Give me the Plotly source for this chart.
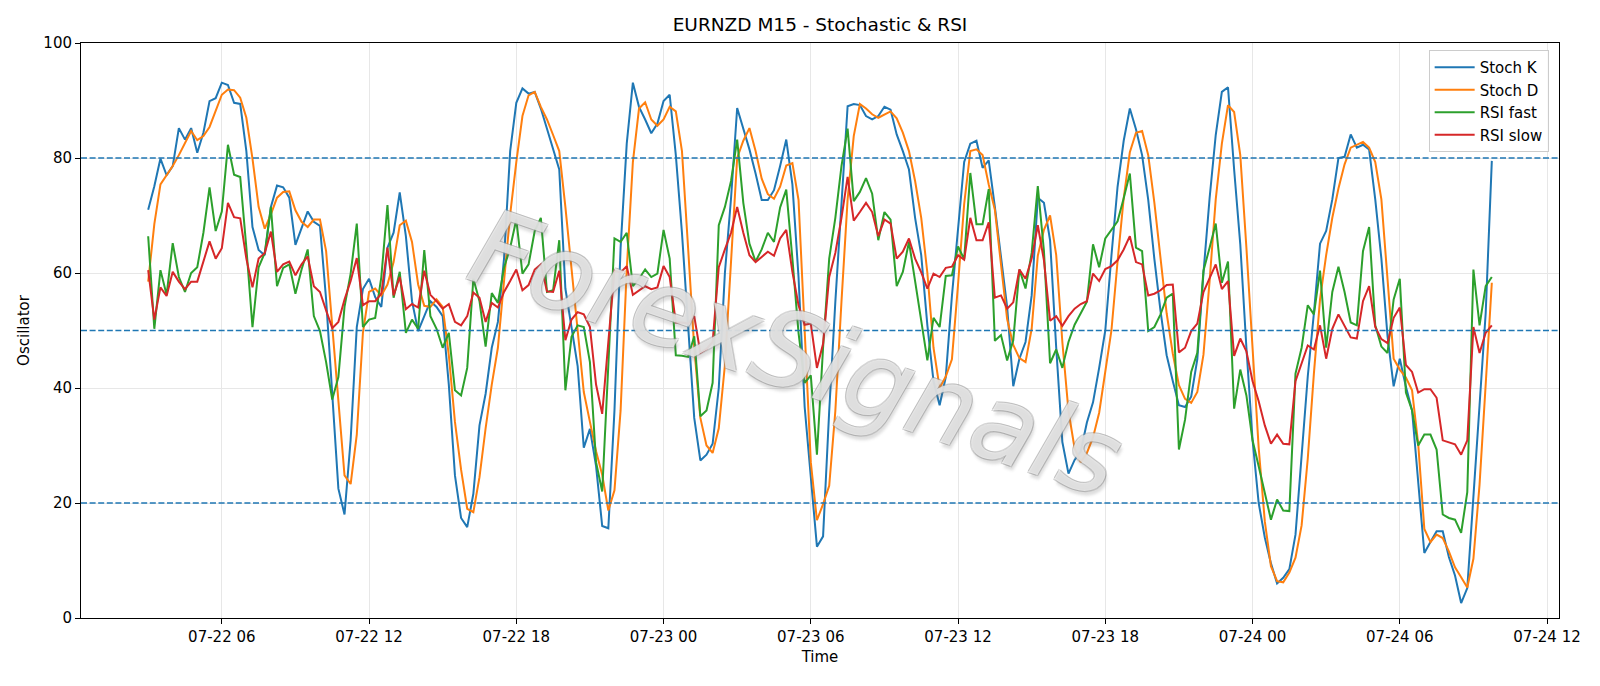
import pandas as pd
import plotly.graph_objects as go

# ---------------- data ----------------
start_time = "2025-07-22 03:00"
bar_minutes = 15

stoch_k = [
    71.0, 75.1, 79.9, 77.0, 78.6, 85.2, 83.2, 85.2, 80.9, 84.4,
    89.9, 90.4, 93.1, 92.7, 89.6, 89.4, 81.2, 68.0, 64.0, 63.1,
    71.5, 75.2, 74.9, 73.1, 64.9, 67.7, 70.7, 68.9, 68.2, 55.4,
    38.3, 22.5, 18.0, 31.0, 50.6, 57.2, 59.0, 55.8, 54.1, 64.4,
    67.0, 74.0, 66.4, 55.1, 49.9, 52.5, 55.1, 54.1, 52.5, 40.6,
    24.8, 17.4, 15.8, 21.6, 33.5, 39.0, 47.0, 51.5, 62.5, 81.2,
    89.6, 92.1, 91.2, 91.5, 88.6, 85.1, 81.5, 78.0, 57.3, 50.3,
    43.8, 29.6, 32.9, 26.4, 16.0, 15.6, 36.1, 64.4, 82.5, 93.1,
    88.9, 86.7, 84.3, 86.0, 89.9, 91.0, 80.5, 67.0, 51.5, 34.8,
    27.4, 28.4, 30.3, 40.0, 60.0, 73.0, 88.7, 85.1, 81.5, 77.3,
    72.7, 72.7, 74.4, 78.6, 83.2, 75.4, 59.3, 36.7, 24.5, 12.4,
    14.2, 36.0, 55.0, 72.0, 89.0, 89.4, 89.2, 87.3, 86.7, 87.3,
    88.9, 88.4, 84.1, 81.2, 78.0, 69.6, 63.1, 50.9, 41.2, 37.0,
    41.9, 56.0, 68.3, 79.3, 82.5, 83.0, 78.3, 79.6, 71.5, 63.1,
    54.1, 40.3, 45.1, 48.0, 56.1, 73.1, 72.2, 65.7, 47.0, 30.6,
    25.1, 27.5, 29.0, 34.0, 37.5, 43.5, 50.0, 63.0, 75.0, 83.0,
    88.6, 85.0, 80.5, 72.7, 62.4, 53.4, 45.7, 41.2, 37.0, 36.7,
    38.5, 45.0, 60.0, 73.0, 84.0, 91.5, 92.3, 78.0, 65.0, 47.0,
    31.0, 20.0, 14.0, 9.5, 6.0, 7.0, 8.5, 14.5, 28.0, 42.0,
    53.0, 65.1, 67.3, 72.8, 80.0, 80.2, 84.1, 81.8, 82.3, 81.5,
    72.8, 62.5, 49.0, 40.3, 45.1, 40.2, 36.1, 23.2, 11.3, 13.2,
    15.1, 15.1, 10.6, 7.4, 2.6, 5.2, 22.0, 37.0, 53.0, 79.5,
]

stoch_d = [
    58.5, 68.5, 75.4, 77.0, 78.6, 80.5, 82.6, 84.7, 83.1, 83.8,
    85.4, 88.3, 91.0, 91.9, 91.8, 90.5, 87.0, 79.9, 71.5, 67.7,
    70.2, 73.1, 74.1, 74.2, 70.9, 68.9, 68.0, 69.3, 69.3, 63.8,
    50.9, 37.4, 24.8, 23.3, 31.9, 49.6, 56.7, 57.3, 56.1, 58.0,
    61.9, 68.3, 69.1, 65.4, 58.0, 54.3, 54.1, 55.4, 54.1, 45.7,
    34.1, 25.8, 19.0, 18.4, 24.5, 33.0, 40.6, 47.0, 58.6, 70.2,
    79.3, 87.3, 90.9, 91.5, 88.9, 86.7, 84.0, 81.2, 71.5, 60.6,
    50.9, 39.3, 34.1, 29.0, 24.9, 18.7, 22.2, 36.1, 60.6, 79.3,
    88.6, 89.7, 86.7, 85.6, 86.7, 88.9, 88.1, 81.2, 64.4, 47.0,
    34.8, 30.0, 28.7, 33.0, 44.0, 62.0, 80.0, 83.0, 85.2, 81.2,
    76.4, 73.7, 72.9, 75.0, 78.7, 79.1, 72.7, 50.0, 27.1, 17.0,
    19.8, 23.0, 36.0, 55.0, 72.8, 83.8, 89.4, 88.6, 87.6, 87.0,
    87.6, 88.1, 86.9, 84.4, 81.2, 76.0, 69.6, 60.0, 47.0, 40.0,
    42.0, 45.0, 58.0, 72.0, 81.2, 81.5, 80.5, 75.4, 71.0, 62.0,
    52.0, 47.5, 45.2, 44.5, 50.3, 63.0, 67.5, 70.0, 63.1, 48.0,
    36.0, 29.5, 27.1, 28.7, 31.4, 35.7, 43.0, 50.0, 62.0, 73.0,
    81.0, 84.4, 84.7, 80.5, 72.2, 62.5, 53.0, 46.0, 40.5, 38.1,
    37.4, 39.3, 45.8, 58.6, 72.8, 82.5, 89.2, 88.0, 80.5, 64.4,
    47.7, 29.6, 16.8, 9.0, 6.4, 6.2, 7.9, 10.5, 16.1, 27.7,
    42.5, 55.4, 63.1, 69.6, 74.7, 78.9, 81.8, 82.3, 82.8, 81.8,
    79.3, 72.8, 59.3, 45.1, 43.2, 41.8, 39.6, 30.3, 15.5, 13.2,
    14.5, 13.9, 11.6, 8.8, 7.1, 5.3, 10.3, 23.2, 40.6, 58.3,
]

rsi_fast = [
    66.4, 50.3, 60.5, 56.2, 65.2, 59.3, 56.7, 60.0, 61.0, 67.0,
    74.9, 67.3, 70.7, 82.3, 77.1, 76.7, 64.4, 50.6, 61.0, 63.5,
    71.5, 57.7, 60.9, 61.5, 56.4, 60.6, 64.1, 52.5, 49.9, 44.5,
    38.0, 41.9, 54.1, 59.9, 68.6, 50.6, 51.9, 52.2, 59.3, 71.8,
    55.7, 60.2, 49.6, 51.9, 50.3, 64.0, 52.5, 50.3, 47.0, 49.6,
    39.6, 38.7, 43.5, 59.0, 55.1, 47.2, 56.5, 54.8, 60.9, 64.4,
    69.3, 59.9, 61.5, 67.3, 69.6, 56.7, 57.0, 65.7, 39.6, 48.9,
    50.9, 50.6, 44.5, 27.1, 22.0, 44.0, 66.0, 65.4, 67.0, 57.7,
    59.0, 60.6, 59.3, 59.9, 67.5, 62.5, 45.7, 45.6, 45.4, 49.0,
    35.1, 36.1, 40.9, 68.3, 71.5, 76.0, 83.2, 72.2, 65.1, 62.0,
    64.1, 67.0, 65.4, 71.4, 74.5, 62.5, 49.6, 40.9, 42.2, 28.4,
    47.0, 62.5, 69.6, 78.6, 85.1, 72.5, 74.1, 76.5, 73.8, 65.7,
    70.6, 69.3, 57.7, 60.2, 65.4, 58.6, 51.5, 44.8, 52.2, 50.6,
    59.5, 59.6, 64.6, 62.4, 77.4, 68.5, 68.5, 74.6, 48.2, 49.2,
    44.8, 48.3, 60.6, 57.3, 63.5, 75.1, 63.8, 44.3, 46.7, 43.5,
    48.0, 51.0, 53.0, 55.0, 65.0, 61.0, 66.0, 67.5, 69.0, 73.0,
    77.3, 64.4, 63.8, 49.9, 50.6, 52.8, 55.7, 56.4, 29.3, 34.5,
    42.8, 46.1, 60.4, 64.4, 68.6, 58.3, 62.0, 36.4, 43.2, 38.7,
    30.9, 26.4, 21.9, 17.1, 20.6, 18.7, 18.6, 42.5, 47.0, 54.4,
    52.8, 60.4, 47.0, 56.7, 61.1, 56.7, 51.4, 50.9, 63.8, 68.0,
    50.9, 47.2, 46.1, 55.4, 59.0, 39.2, 36.1, 30.0, 31.9, 31.9,
    29.3, 18.0, 17.4, 17.1, 14.8, 21.9, 60.6, 50.9, 57.7, 59.3,
]

rsi_slow = [
    60.5, 51.9, 57.5, 56.0, 60.2, 58.5, 57.2, 58.5, 58.5, 62.0,
    65.5, 62.5, 64.3, 72.2, 69.7, 69.5, 62.5, 57.5, 62.5, 63.5,
    67.2, 60.2, 61.5, 62.0, 59.6, 61.5, 62.9, 57.7, 56.7, 53.5,
    50.4, 51.5, 55.4, 58.6, 62.6, 54.4, 55.1, 55.1, 56.4, 64.4,
    56.1, 59.3, 53.7, 54.6, 54.0, 60.4, 56.2, 55.1, 53.8, 54.6,
    51.5, 50.9, 52.5, 56.6, 55.7, 51.5, 54.8, 54.0, 56.7, 58.6,
    60.6, 57.0, 57.9, 60.6, 61.5, 56.8, 56.7, 60.4, 48.3, 51.9,
    53.2, 52.8, 50.6, 40.6, 35.5, 48.0, 60.4, 60.1, 61.2, 56.2,
    57.0, 57.7, 57.2, 57.5, 61.2, 59.3, 51.4, 51.4, 51.2, 52.5,
    46.1, 46.8, 48.0, 61.0, 64.1, 67.0, 71.5, 67.0, 63.1, 61.9,
    62.8, 63.7, 63.0, 66.0, 67.5, 60.2, 54.4, 51.0, 51.2, 43.5,
    47.7, 59.3, 63.5, 69.6, 76.7, 69.1, 70.6, 72.2, 70.6, 66.4,
    69.3, 68.6, 62.5, 63.7, 66.0, 62.5, 60.1, 57.3, 59.9, 59.3,
    60.9, 61.1, 63.1, 62.3, 69.6, 65.7, 65.7, 68.8, 55.7, 56.1,
    53.8, 54.9, 60.6, 59.0, 62.5, 68.3, 62.2, 51.7, 52.5, 50.8,
    52.5, 53.8, 54.6, 55.1, 59.9, 58.6, 60.7, 61.2, 62.2, 64.1,
    66.4, 61.9, 61.5, 56.1, 56.4, 57.0, 57.9, 58.0, 46.2, 47.0,
    49.9, 51.2, 56.7, 59.1, 61.5, 57.2, 58.6, 45.6, 48.6, 46.4,
    41.2, 37.7, 33.5, 30.3, 31.9, 30.3, 30.2, 41.2, 44.5, 47.4,
    46.7, 50.9, 45.1, 50.3, 52.8, 50.9, 48.8, 48.6, 55.1, 57.7,
    50.6, 48.5, 47.8, 52.2, 54.0, 44.0, 42.8, 39.2, 39.8, 39.8,
    38.3, 30.9, 30.6, 30.2, 28.4, 30.9, 50.6, 46.1, 49.6, 50.9,
]

series_names = ["Stoch K", "Stoch D", "RSI fast", "RSI slow"]
series_colors = ["#1f77b4", "#ff7f0e", "#2ca02c", "#d62728"]
level_lines = [20, 50, 80]
y_ticks = [0, 20, 40, 60, 80, 100]
title_text = "EURNZD M15 - Stochastic & RSI"
watermark_text = "ForexSignals"

# ---------------- figure ----------------
times = pd.date_range(start=start_time, periods=len(stoch_k), freq=f"{bar_minutes}min")
span = times[-1] - times[0]
pad = span * 0.05

FONT = "DejaVu Sans"
fig = go.Figure()
for name, color, vals in zip(series_names, series_colors, [stoch_k, stoch_d, rsi_fast, rsi_slow]):
    fig.add_trace(go.Scatter(x=times, y=vals, mode="lines", name=name,
                             line=dict(color=color, width=2)))

for lv in level_lines:
    fig.add_shape(type="line", xref="paper", x0=0, x1=1, yref="y", y0=lv, y1=lv,
                  line=dict(color="#1f77b4", width=1.3, dash="6px,2.6px"), layer="above")

edge = "rgba(150,150,150,0.6)"
fig.add_annotation(
    text=watermark_text, xref="paper", yref="paper", x=0.484, y=0.46,
    showarrow=False, textangle=19,
    font=dict(family=FONT, size=106, color="rgba(255,255,255,0.66)",
              style="italic",
              shadow=f"1px 1px 0 {edge}, -1px -1px 0 {edge}, 1px -1px 0 {edge}, "
                     f"-1px 1px 0 {edge}, 3px 4px 3px rgba(90,90,90,0.3)"),
)

axis_common = dict(showline=True, linecolor="black", linewidth=1, mirror=True,
                   ticks="outside", ticklen=5, tickcolor="black", tickwidth=1,
                   showgrid=True, gridcolor="#e7e7e7", gridwidth=1, zeroline=False,
                   tickfont=dict(family=FONT, size=15, color="black"))

fig.update_layout(
    width=1600, height=686,
    margin=dict(l=81, r=41, t=43, b=68),
    paper_bgcolor="white", plot_bgcolor="white",
    font=dict(family=FONT, size=15, color="black"),
    title=dict(text=title_text, x=0.5, xref="paper", y=1 - 25 / 686, yref="container",
               xanchor="center", yanchor="middle",
               font=dict(family=FONT, size=18.5, color="black")),
    showlegend=True,
    legend=dict(x=0.993, y=0.988, xanchor="right", yanchor="top",
                bgcolor="rgba(255,255,255,0.8)", bordercolor="#cccccc", borderwidth=1,
                font=dict(family=FONT, size=15, color="black"),
                tracegroupgap=0, itemwidth=40),
    xaxis=dict(axis_common, type="date", range=[times[0] - pad, times[-1] + pad],
               tick0="2025-07-22 00:00", dtick=6 * 3600 * 1000, tickformat="%m-%d %H",
               title=dict(text="Time", standoff=6, font=dict(family=FONT, size=15))),
    yaxis=dict(axis_common, range=[0, 100], tickvals=y_ticks,
               title=dict(text="Oscillator", standoff=10, font=dict(family=FONT, size=15))),
)

fig.write_html("out.html")
